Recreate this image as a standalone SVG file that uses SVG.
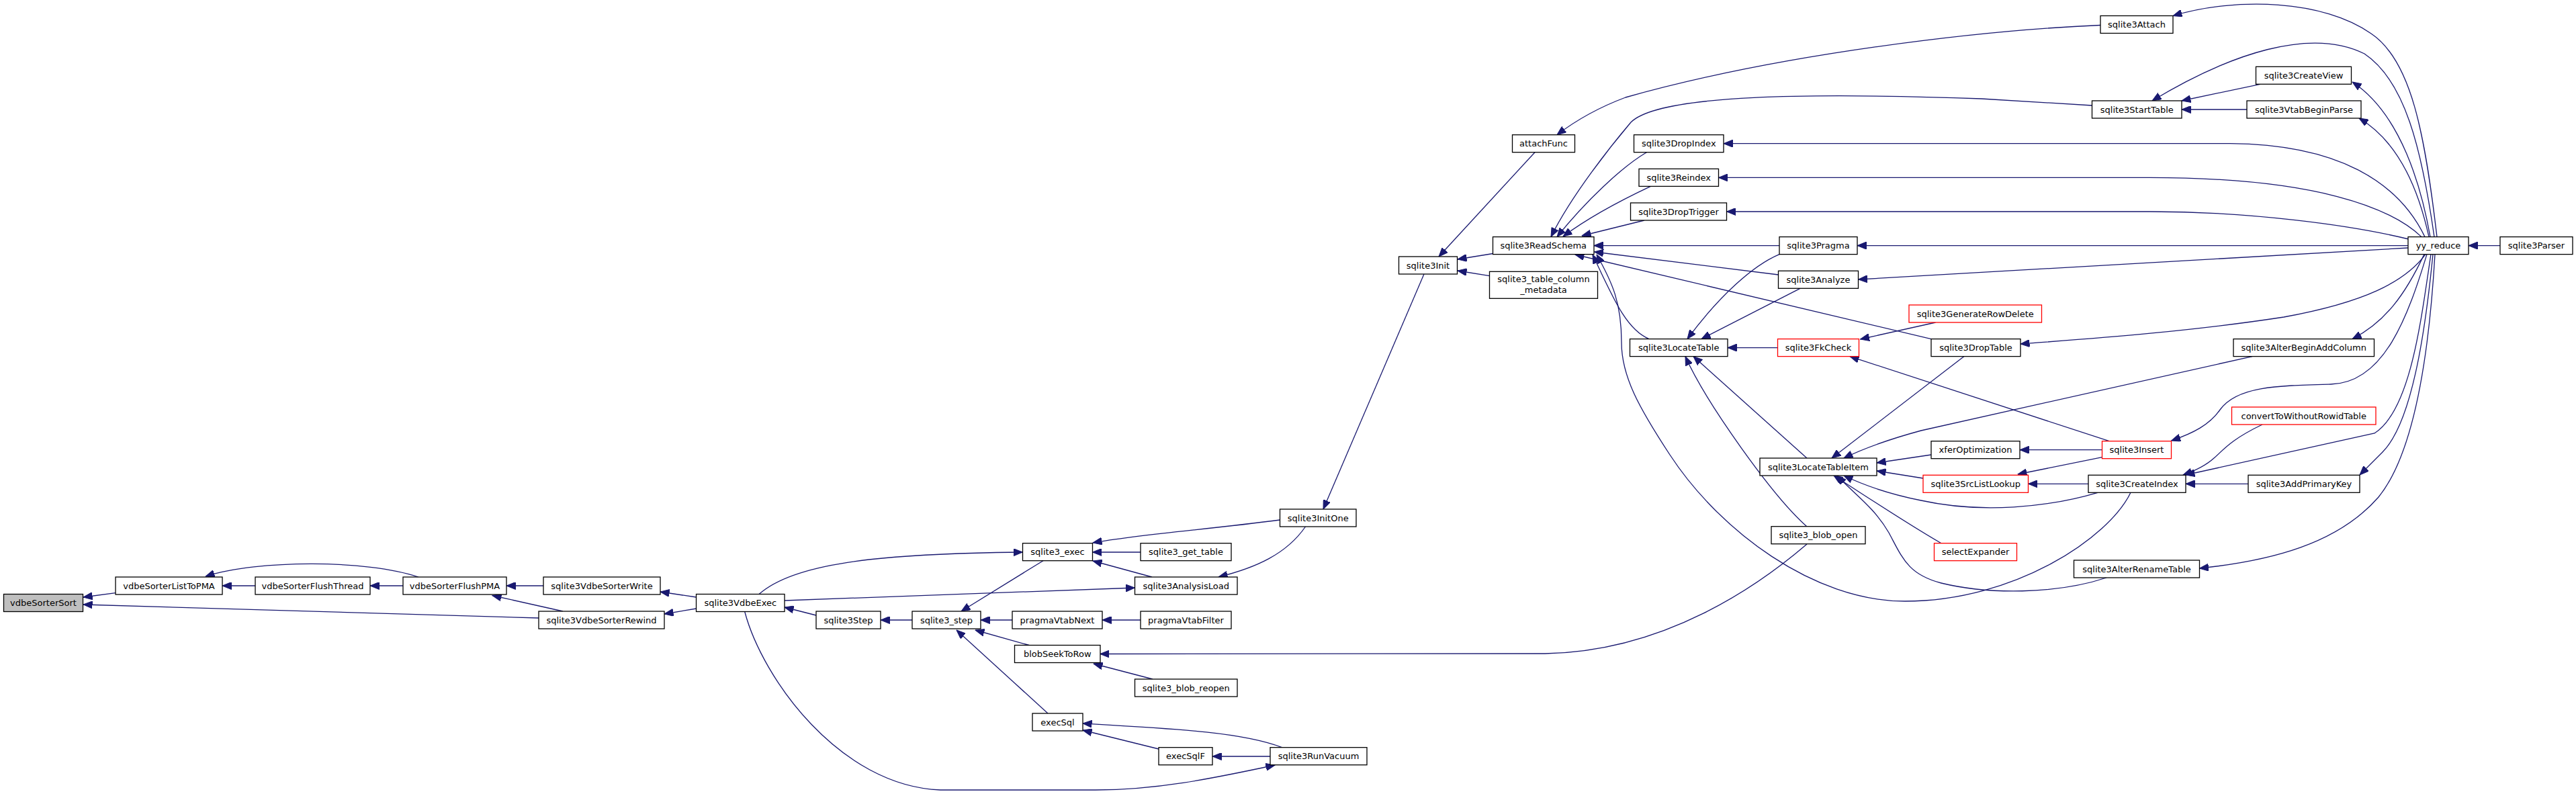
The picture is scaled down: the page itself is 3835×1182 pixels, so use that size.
<svg xmlns="http://www.w3.org/2000/svg" width="3835" height="1182" viewBox="0 0 3835 1182">
<style>
.n rect{fill:#fff;stroke:#000;stroke-width:1.3}
.n.r rect{stroke:#ff0000}
.n.g rect{fill:#bfbfbf}
.n text{font-family:"DejaVu Sans","Liberation Sans",sans-serif;font-size:13px;text-anchor:middle;fill:#000}
#edges path{fill:none;stroke:#191970;stroke-width:1.3}
</style>
<defs>
<marker id="a" markerUnits="userSpaceOnUse" viewBox="0 0 14 11" markerWidth="14" markerHeight="11" refX="13.5" refY="5.5" orient="auto">
<path d="M0,0 L13.5,5.5 L0,11 z" fill="#191970" stroke="#191970" stroke-width="1"/>
</marker>
</defs>
<rect width="3835" height="1182" fill="#fff"/>
<g id="edges">
<path marker-end="url(#a)" d="M172,882.7 L124,889"/>
<path marker-end="url(#a)" d="M802,920 L124,900"/>
<path marker-end="url(#a)" d="M380,872 L331,872"/>
<path marker-end="url(#a)" d="M623,859 C545,833 385,833 306,858"/>
<path marker-end="url(#a)" d="M600,872 L551,872"/>
<path marker-end="url(#a)" d="M809,872 L754,872"/>
<path marker-end="url(#a)" d="M838,910 L733,886.5"/>
<path marker-end="url(#a)" d="M1036.5,889 L983,881"/>
<path marker-end="url(#a)" d="M1036.5,906 L989,914"/>
<path marker-end="url(#a)" d="M1215,916 L1168,904"/>
<path marker-end="url(#a)" d="M1130,884.5 C1180,840 1300,824 1522.5,822"/>
<path marker-end="url(#a)" d="M1698,822 L1626.5,822"/>
<path marker-end="url(#a)" d="M1715,859 L1627,835"/>
<path marker-end="url(#a)" d="M1905.5,774 C1800,788 1700,795 1627,808"/>
<path marker-end="url(#a)" d="M1943.5,784 C1915,825 1870,845 1814,859"/>
<path marker-end="url(#a)" d="M1168,894 L1689.5,875"/>
<path marker-end="url(#a)" d="M1553,834.7 L1431,910"/>
<path marker-end="url(#a)" d="M1358,923 L1311,923"/>
<path marker-end="url(#a)" d="M1507,923 L1460,923"/>
<path marker-end="url(#a)" d="M1698,923 L1641,923"/>
<path marker-end="url(#a)" d="M1532,960.5 L1452,938"/>
<path marker-end="url(#a)" d="M1560,1062 L1424,938"/>
<path marker-end="url(#a)" d="M2690,810 C2620,870 2480,970 2300,973 L1638,973.5"/>
<path marker-end="url(#a)" d="M1716,1011 L1628,988"/>
<path marker-end="url(#a)" d="M1908.5,1112.7 C1850,1090 1750,1085 1612,1077"/>
<path marker-end="url(#a)" d="M1725,1115 L1612,1087"/>
<path marker-end="url(#a)" d="M1891,1126 L1805,1126"/>
<path marker-end="url(#a)" d="M1108.7,910.5 C1135,1010 1250,1170 1400,1176 L1631,1176 C1720,1176 1800,1160 1898,1139"/>
<path marker-end="url(#a)" d="M2120,408 L1970,758"/>
<path marker-end="url(#a)" d="M2285,226.7 L2142,382"/>
<path marker-end="url(#a)" d="M2222.5,377.5 L2170,386"/>
<path marker-end="url(#a)" d="M2217.5,410.7 L2170,403"/>
<path marker-end="url(#a)" d="M3127,37.5 C2950,45 2650,80 2420,145 C2380,160 2345,180 2318,200.7"/>
<path marker-end="url(#a)" d="M3114.5,157 L2950,147 C2700,138 2470,140 2428,182 C2400,215 2340,290 2309,352.6"/>
<path marker-end="url(#a)" d="M2451.4,226.7 C2415,248 2360,300 2318,352.6"/>
<path marker-end="url(#a)" d="M2457.4,277.4 C2420,295 2370,320 2327,352"/>
<path marker-end="url(#a)" d="M2448,328 L2355,351"/>
<path marker-end="url(#a)" d="M2649,365.6 L2373,365.6"/>
<path marker-end="url(#a)" d="M2647.5,409 L2373.5,375"/>
<path marker-end="url(#a)" d="M2875,504.6 L2345,379"/>
<path marker-end="url(#a)" d="M2455,504.6 C2420,490 2400,440 2371,379"/>
<path marker-end="url(#a)" d="M3172,733.3 C3140,800 3000,895 2836,895 C2700,895 2560,790 2486,677 C2440,607 2414,560 2414,510 C2414,450 2400,420 2377,379"/>
<path marker-end="url(#a)" d="M2649,378.6 C2610,395 2560,440 2512,504.6"/>
<path marker-end="url(#a)" d="M2680,429.3 L2533,504.6"/>
<path marker-end="url(#a)" d="M2646.5,517.6 L2572,517.6"/>
<path marker-end="url(#a)" d="M2881.6,480 L2769.5,505"/>
<path marker-end="url(#a)" d="M3140,656.7 L2754,530.6"/>
<path marker-end="url(#a)" d="M2690,682 L2521,530.6"/>
<path marker-end="url(#a)" d="M2689.8,783.7 C2640,740 2540,600 2509,530.6"/>
<path marker-end="url(#a)" d="M2924,530.6 L2727,682"/>
<path marker-end="url(#a)" d="M3353,530.6 L2860,641 Q2790,660 2745,682"/>
<path marker-end="url(#a)" d="M2875,677 L2794,689"/>
<path marker-end="url(#a)" d="M2863,712 L2794,701"/>
<path marker-end="url(#a)" d="M3123,733.3 C3050,755 2950,765 2860,745 C2810,735 2770,720 2745,708"/>
<path marker-end="url(#a)" d="M2890,808.7 C2840,780 2780,740 2730,708"/>
<path marker-end="url(#a)" d="M3136,860 C3060,885 2960,885 2890,868 C2840,855 2832,830 2812,793 C2790,755 2760,735 2735,708"/>
<path marker-end="url(#a)" d="M3129.5,669.7 L3007,669.7"/>
<path marker-end="url(#a)" d="M3129.5,680.7 L3004,706"/>
<path marker-end="url(#a)" d="M3109,720.3 L3019.5,720.3"/>
<path marker-end="url(#a)" d="M3613,378.6 C3585,470 3550,570 3470,572 C3390,574 3330,575 3305,610 C3290,632 3265,645 3232.5,656"/>
<path marker-end="url(#a)" d="M3611,378.6 C3580,420 3520,450 3400,472 C3250,495 3100,505 3008,512"/>
<path marker-end="url(#a)" d="M3609,378.6 C3580,440 3550,480 3502,504.6"/>
<path marker-end="url(#a)" d="M3619,378.6 C3605,470 3590,610 3535,645 L3254,707"/>
<path marker-end="url(#a)" d="M3368,632 C3320,655 3310,670 3296,682 C3285,692 3270,700 3250,707"/>
<path marker-end="url(#a)" d="M3622,378.6 C3610,500 3590,630 3547,673 C3535,685 3525,695 3513,707"/>
<path marker-end="url(#a)" d="M3347,720.3 L3254,720.3"/>
<path marker-end="url(#a)" d="M3625,378.6 C3615,550 3590,680 3541,740 C3480,810 3380,835 3274.5,846"/>
<path marker-end="url(#a)" d="M3624,352.6 C3605,220 3580,120 3520,80 C3440,40 3320,80 3204,150"/>
<path marker-end="url(#a)" d="M3628,352.6 C3610,200 3590,90 3530,50 C3460,0 3330,-5 3235,23.5"/>
<path marker-end="url(#a)" d="M3365,125.3 L3248,150"/>
<path marker-end="url(#a)" d="M3345,163 L3248,163"/>
<path marker-end="url(#a)" d="M3618,352.6 C3605,280 3575,170 3502,122"/>
<path marker-end="url(#a)" d="M3616,352.6 C3600,280 3570,210 3512,176"/>
<path marker-end="url(#a)" d="M3610,352.6 C3570,270 3480,215 3320,213.7 L2566,213.7"/>
<path marker-end="url(#a)" d="M3605,352.6 C3560,310 3450,264.4 3200,264.4 L2558.5,264.4"/>
<path marker-end="url(#a)" d="M3586,356 C3500,335 3350,315 3200,315 L2570.5,315"/>
<path marker-end="url(#a)" d="M3585,365.6 L2765,365.6"/>
<path marker-end="url(#a)" d="M3585,369 L2766.5,416"/>
<path marker-end="url(#a)" d="M3722,365.6 L3675,365.6"/>
</g>
<g id="vdbeSorterSort" class="n g"><rect x="5.5" y="884.5" width="118" height="26"/><text x="64.5" y="902.2">vdbeSorterSort</text></g>
<g id="vdbeSorterListToPMA" class="n"><rect x="172" y="859" width="159" height="26"/><text x="251.5" y="876.7">vdbeSorterListToPMA</text></g>
<g id="vdbeSorterFlushThread" class="n"><rect x="380" y="859" width="171" height="26"/><text x="465.5" y="876.7">vdbeSorterFlushThread</text></g>
<g id="vdbeSorterFlushPMA" class="n"><rect x="600" y="859" width="154" height="26"/><text x="677" y="876.7">vdbeSorterFlushPMA</text></g>
<g id="sqlite3VdbeSorterWrite" class="n"><rect x="809" y="859" width="174" height="26"/><text x="896" y="876.7">sqlite3VdbeSorterWrite</text></g>
<g id="sqlite3VdbeSorterRewind" class="n"><rect x="802" y="910" width="187" height="26"/><text x="895.5" y="927.7">sqlite3VdbeSorterRewind</text></g>
<g id="sqlite3VdbeExec" class="n"><rect x="1036.5" y="884.5" width="131.5" height="26"/><text x="1102.25" y="902.2">sqlite3VdbeExec</text></g>
<g id="sqlite3_exec" class="n"><rect x="1522.5" y="808.7" width="104" height="26"/><text x="1574.5" y="826.4">sqlite3_exec</text></g>
<g id="sqlite3_get_table" class="n"><rect x="1698" y="808.7" width="135" height="26"/><text x="1765.5" y="826.4">sqlite3_get_table</text></g>
<g id="sqlite3AnalysisLoad" class="n"><rect x="1689.5" y="859" width="152.5" height="26"/><text x="1765.75" y="876.7">sqlite3AnalysisLoad</text></g>
<g id="sqlite3InitOne" class="n"><rect x="1905.5" y="758" width="113.5" height="26"/><text x="1962.25" y="775.7">sqlite3InitOne</text></g>
<g id="sqlite3Step" class="n"><rect x="1215" y="910" width="96" height="26"/><text x="1263" y="927.7">sqlite3Step</text></g>
<g id="sqlite3_step" class="n"><rect x="1358" y="910" width="102" height="26"/><text x="1409" y="927.7">sqlite3_step</text></g>
<g id="pragmaVtabNext" class="n"><rect x="1507" y="910" width="134" height="26"/><text x="1574" y="927.7">pragmaVtabNext</text></g>
<g id="pragmaVtabFilter" class="n"><rect x="1698" y="910" width="135" height="26"/><text x="1765.5" y="927.7">pragmaVtabFilter</text></g>
<g id="blobSeekToRow" class="n"><rect x="1510.5" y="960.5" width="127.5" height="26"/><text x="1574.25" y="978.2">blobSeekToRow</text></g>
<g id="sqlite3_blob_reopen" class="n"><rect x="1689.5" y="1011" width="152.5" height="26"/><text x="1765.75" y="1028.7">sqlite3_blob_reopen</text></g>
<g id="execSql" class="n"><rect x="1537" y="1062" width="75" height="26"/><text x="1574.5" y="1079.7">execSql</text></g>
<g id="execSqlF" class="n"><rect x="1725" y="1112.7" width="80" height="26"/><text x="1765" y="1130.4">execSqlF</text></g>
<g id="sqlite3RunVacuum" class="n"><rect x="1891" y="1112.7" width="144" height="26"/><text x="1963" y="1130.4">sqlite3RunVacuum</text></g>
<g id="sqlite3Init" class="n"><rect x="2082.5" y="382" width="87" height="26"/><text x="2126" y="399.7">sqlite3Init</text></g>
<g id="attachFunc" class="n"><rect x="2251.5" y="200.7" width="93" height="26"/><text x="2298" y="218.4">attachFunc</text></g>
<g id="sqlite3ReadSchema" class="n"><rect x="2222.5" y="352.6" width="150.5" height="26"/><text x="2297.75" y="370.3">sqlite3ReadSchema</text></g>
<g id="sqlite3_table_column_metadata" class="n"><rect x="2217.5" y="404.3" width="161" height="40"/><text x="2298" y="420">sqlite3_table_column</text><text x="2298" y="435.5">_metadata</text></g>
<g id="sqlite3DropIndex" class="n"><rect x="2432.5" y="200.7" width="133.5" height="26"/><text x="2499.25" y="218.4">sqlite3DropIndex</text></g>
<g id="sqlite3Reindex" class="n"><rect x="2440" y="251.4" width="118.5" height="26"/><text x="2499.25" y="269.1">sqlite3Reindex</text></g>
<g id="sqlite3DropTrigger" class="n"><rect x="2427.5" y="302" width="143" height="26"/><text x="2499" y="319.7">sqlite3DropTrigger</text></g>
<g id="sqlite3LocateTable" class="n"><rect x="2426.5" y="504.6" width="145.5" height="26"/><text x="2499.25" y="522.3">sqlite3LocateTable</text></g>
<g id="sqlite3Pragma" class="n"><rect x="2649" y="352.6" width="116" height="26"/><text x="2707" y="370.3">sqlite3Pragma</text></g>
<g id="sqlite3Analyze" class="n"><rect x="2647.5" y="403.3" width="119" height="26"/><text x="2707" y="421">sqlite3Analyze</text></g>
<g id="sqlite3FkCheck" class="n r"><rect x="2646.5" y="504.6" width="121" height="26"/><text x="2707" y="522.3">sqlite3FkCheck</text></g>
<g id="sqlite3LocateTableItem" class="n"><rect x="2620" y="682" width="174" height="26"/><text x="2707" y="699.7">sqlite3LocateTableItem</text></g>
<g id="sqlite3_blob_open" class="n"><rect x="2637" y="783.7" width="140" height="26"/><text x="2707" y="801.4">sqlite3_blob_open</text></g>
<g id="sqlite3GenerateRowDelete" class="n r"><rect x="2842" y="454" width="197.5" height="26"/><text x="2940.75" y="471.7">sqlite3GenerateRowDelete</text></g>
<g id="sqlite3DropTable" class="n"><rect x="2875" y="504.6" width="133" height="26"/><text x="2941.5" y="522.3">sqlite3DropTable</text></g>
<g id="xferOptimization" class="n"><rect x="2875" y="656.7" width="132" height="26"/><text x="2941" y="674.4">xferOptimization</text></g>
<g id="sqlite3SrcListLookup" class="n r"><rect x="2863" y="707.3" width="156.5" height="26"/><text x="2941.25" y="725">sqlite3SrcListLookup</text></g>
<g id="selectExpander" class="n r"><rect x="2879.5" y="808.7" width="123" height="26"/><text x="2941" y="826.4">selectExpander</text></g>
<g id="sqlite3Attach" class="n"><rect x="3127" y="23.5" width="108" height="26"/><text x="3181" y="41.2">sqlite3Attach</text></g>
<g id="sqlite3StartTable" class="n"><rect x="3114.5" y="150" width="133.5" height="26"/><text x="3181.25" y="167.7">sqlite3StartTable</text></g>
<g id="sqlite3CreateView" class="n"><rect x="3358.5" y="99.3" width="142" height="26"/><text x="3429.5" y="117">sqlite3CreateView</text></g>
<g id="sqlite3VtabBeginParse" class="n"><rect x="3345" y="150" width="170" height="26"/><text x="3430" y="167.7">sqlite3VtabBeginParse</text></g>
<g id="sqlite3Insert" class="n r"><rect x="3129.5" y="656.7" width="103" height="26"/><text x="3181" y="674.4">sqlite3Insert</text></g>
<g id="sqlite3CreateIndex" class="n"><rect x="3109" y="707.3" width="145" height="26"/><text x="3181.5" y="725">sqlite3CreateIndex</text></g>
<g id="sqlite3AlterRenameTable" class="n"><rect x="3087.5" y="834" width="187" height="26"/><text x="3181" y="851.7">sqlite3AlterRenameTable</text></g>
<g id="sqlite3AlterBeginAddColumn" class="n"><rect x="3325" y="504.6" width="209.5" height="26"/><text x="3429.75" y="522.3">sqlite3AlterBeginAddColumn</text></g>
<g id="convertToWithoutRowidTable" class="n r"><rect x="3322.5" y="606" width="214.5" height="26"/><text x="3429.75" y="623.7">convertToWithoutRowidTable</text></g>
<g id="sqlite3AddPrimaryKey" class="n"><rect x="3347" y="707.3" width="166" height="26"/><text x="3430" y="725">sqlite3AddPrimaryKey</text></g>
<g id="yy_reduce" class="n"><rect x="3585" y="352.6" width="90" height="26"/><text x="3630" y="370.3">yy_reduce</text></g>
<g id="sqlite3Parser" class="n"><rect x="3722" y="352.6" width="108" height="26"/><text x="3776" y="370.3">sqlite3Parser</text></g>
</svg>
